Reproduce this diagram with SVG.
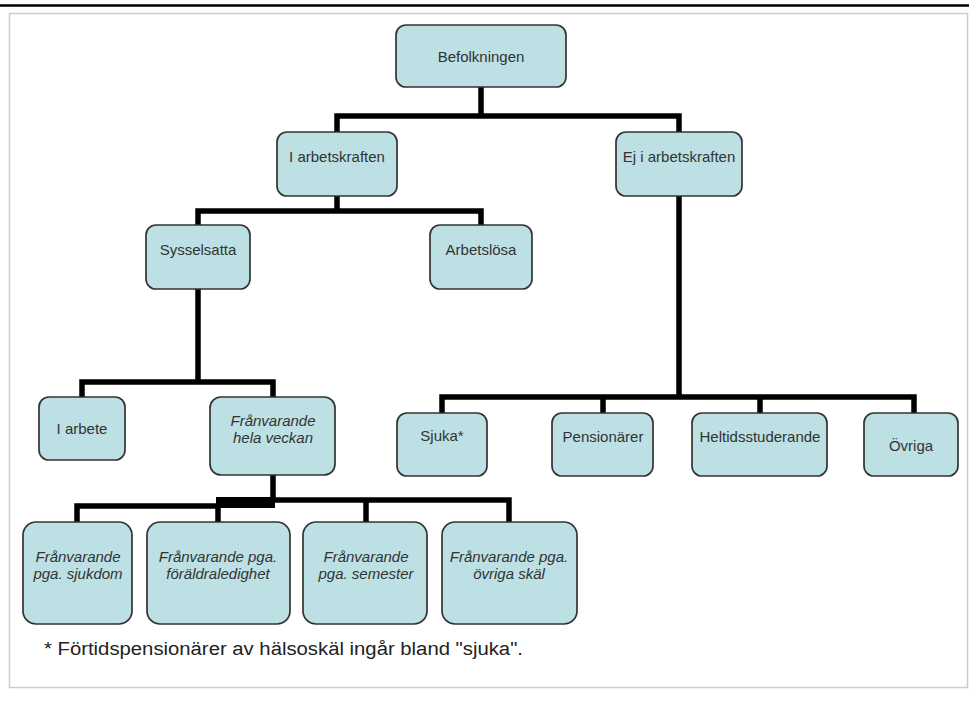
<svg xmlns="http://www.w3.org/2000/svg" width="969" height="703" viewBox="0 0 969 703">
<style>
.box{fill:#bce0e3;stroke:#333;stroke-width:1.7}
.t{font-family:"Liberation Sans",Arial,sans-serif;font-size:15px;fill:#333;text-anchor:middle}
.i{font-style:italic}
.c{fill:none;stroke:#000;stroke-width:5.5;stroke-linejoin:miter;stroke-linecap:square}
</style>
<rect x="0" y="0" width="969" height="703" fill="#fff"/>
<line x1="0" y1="5.5" x2="969" y2="5.5" stroke="#000" stroke-width="2.6"/>
<rect x="9.5" y="13.5" width="958" height="674" fill="none" stroke="#ccc" stroke-width="1.5"/>
<g id="connectors">
<path class="c" d="M481,87V116M337,132V116H679V132"/>
<path class="c" d="M337,196V211M198,224V211H481V224"/>
<path class="c" d="M198,289V382M82,397V382H273V397"/>
<path class="c" d="M273,475V500H509V522M366,522V500"/>
<path class="c" d="M77,522V506H218M218,522V506"/>
<rect x="216" y="497" width="59" height="11" fill="#000"/>
<path class="c" d="M679,196V397M442,413V397H914V413M603,413V397M760,413V397"/>
</g>
<g id="befolkningen"><rect class="box" x="396" y="25" width="170" height="62" rx="10"/><text class="t" x="481" y="62">Befolkningen</text></g>
<g id="i-arbetskraften"><rect class="box" x="277" y="132" width="120" height="64" rx="10"/><text class="t" x="337" y="162">I arbetskraften</text></g>
<g id="ej-i-arbetskraften"><rect class="box" x="616" y="132" width="126" height="64" rx="10"/><text class="t" x="679" y="162">Ej i arbetskraften</text></g>
<g id="sysselsatta"><rect class="box" x="146" y="225" width="104" height="64" rx="10"/><text class="t" x="198" y="255">Sysselsatta</text></g>
<g id="arbetslosa"><rect class="box" x="430" y="225" width="102" height="64" rx="10"/><text class="t" x="481" y="255">Arbetslösa</text></g>
<g id="i-arbete"><rect class="box" x="39" y="397" width="86" height="63" rx="10"/><text class="t" x="82" y="434">I arbete</text></g>
<g id="franvarande-hela-veckan"><rect class="box" x="210" y="397" width="125" height="78" rx="11"/><text class="t i" x="273" y="426">Frånvarande</text><text class="t i" x="273" y="443">hela veckan</text></g>
<g id="sjuka"><rect class="box" x="397" y="413" width="90" height="63" rx="10"/><text class="t" x="442" y="441">Sjuka*</text></g>
<g id="pensionarer"><rect class="box" x="552" y="413" width="101" height="63" rx="10"/><text class="t" x="603" y="442">Pensionärer</text></g>
<g id="heltidsstuderande"><rect class="box" x="692" y="413" width="135" height="63" rx="10"/><text class="t" x="760" y="442">Heltidsstuderande</text></g>
<g id="ovriga"><rect class="box" x="864" y="413" width="94" height="63" rx="10"/><text class="t" x="911" y="451">Övriga</text></g>
<g id="franvarande-sjukdom"><rect class="box" x="23" y="522" width="109" height="102" rx="13"/><text class="t i" x="78" y="562">Frånvarande</text><text class="t i" x="78" y="579">pga. sjukdom</text></g>
<g id="franvarande-foraldraledighet"><rect class="box" x="147" y="522" width="143" height="102" rx="13"/><text class="t i" x="218" y="562">Frånvarande pga.</text><text class="t i" x="218" y="579">föräldraledighet</text></g>
<g id="franvarande-semester"><rect class="box" x="303" y="522" width="124" height="102" rx="13"/><text class="t i" x="366" y="562">Frånvarande</text><text class="t i" x="366" y="579">pga. semester</text></g>
<g id="franvarande-ovriga"><rect class="box" x="442" y="522" width="135" height="102" rx="13"/><text class="t i" x="509" y="562">Frånvarande pga.</text><text class="t i" x="509" y="579">övriga skäl</text></g>
<text x="44" y="655" font-family="'Liberation Sans',Arial,sans-serif" font-size="18px" fill="#222" textLength="479" lengthAdjust="spacingAndGlyphs">* Förtidspensionärer av hälsoskäl ingår bland "sjuka".</text>
</svg>
